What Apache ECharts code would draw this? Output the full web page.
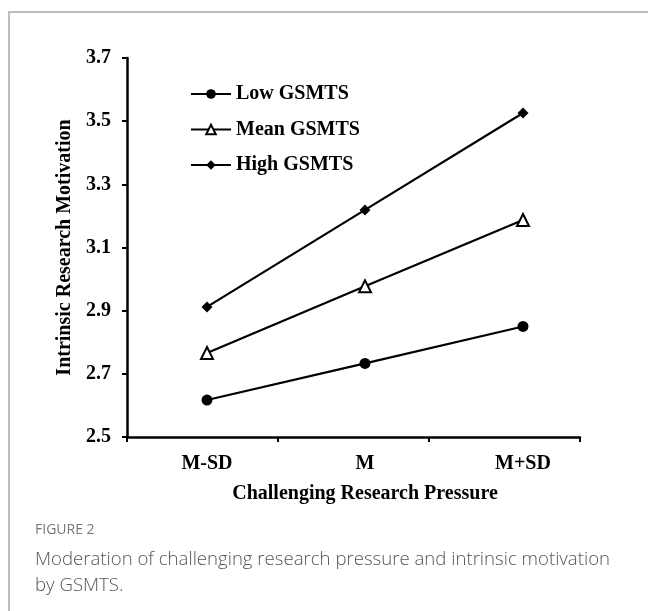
<!DOCTYPE html>
<html><head><meta charset="utf-8">
<script src="https://cdn.jsdelivr.net/npm/echarts@6/dist/echarts.min.js"></script>
<style>html,body{margin:0;padding:0;background:#fff;}#c{width:648px;height:611px;}</style>
</head><body><div id="c"></div>
<script>
const categories = ['M-SD', 'M', 'M+SD'];
const lowGSMTS = [2.617, 2.733, 2.850];
const meanGSMTS = [2.766, 2.977, 3.187];
const highGSMTS = [2.912, 3.219, 3.526];
const seriesNames = ['Low GSMTS', 'Mean GSMTS', 'High GSMTS'];
const yMin = 2.5, yMax = 3.7, yStep = 0.2;

const serif = '"Liberation Serif", "Times New Roman", serif';
const fs = 20;
const chart = echarts.init(document.getElementById('c'), null, {renderer: 'canvas'});
const lineStyle = {color: '#000', width: 2.2};
const txt = {fontFamily: serif, fontWeight: 'bold', fontSize: fs, color: '#000'};
chart.setOption({
  animation: false,
  backgroundColor: '#fff',
  grid: [
    {left: 127, right: 68, top: 58, bottom: 174},
    {left: 207, right: 125, top: 58, bottom: 174}
  ],
  legend: {
    orient: 'vertical', left: 185, top: 79, itemWidth: 40, itemHeight: 12, itemGap: 15.5,
    textStyle: txt,
    data: seriesNames
  },
  xAxis: [
    {
      gridIndex: 0, type: 'category', data: categories, boundaryGap: true,
      axisLine: {lineStyle: {color: '#000', width: 2.5}},
      axisTick: {show: true, length: 5, lineStyle: {color: '#000', width: 2}},
      axisLabel: {show: false}
    },
    {
      gridIndex: 1, type: 'category', data: categories, boundaryGap: false,
      axisLine: {show: false}, axisTick: {show: false},
      axisLabel: Object.assign({margin: 17}, txt),
      name: 'Challenging Research Pressure', nameLocation: 'middle', nameGap: 47,
      nameTextStyle: txt
    }
  ],
  yAxis: [
    {
      gridIndex: 0, type: 'value', min: yMin, max: yMax, interval: yStep,
      axisLine: {show: true, lineStyle: {color: '#000', width: 2.5}},
      axisTick: {show: true, length: 5, lineStyle: {color: '#000', width: 2}},
      splitLine: {show: false},
      axisLabel: Object.assign({margin: 16, formatter: v => v.toFixed(1)}, txt),
      name: 'Intrinsic Research Motivation', nameLocation: 'middle', nameGap: 45, nameRotate: 90,
      nameTextStyle: txt
    },
    {
      gridIndex: 1, type: 'value', min: yMin, max: yMax, interval: yStep, show: false,
      splitLine: {show: false}
    }
  ],
  series: [
    {name: seriesNames[0], type: 'line', xAxisIndex: 1, yAxisIndex: 1, data: lowGSMTS,
      symbol: 'circle', symbolSize: 11, lineStyle: lineStyle, itemStyle: {color: '#000'}},
    {name: seriesNames[1], type: 'line', xAxisIndex: 1, yAxisIndex: 1, data: meanGSMTS,
      symbol: 'triangle', symbolSize: 12, lineStyle: lineStyle,
      itemStyle: {color: '#fff', borderColor: '#000', borderWidth: 2}},
    {name: seriesNames[2], type: 'line', xAxisIndex: 1, yAxisIndex: 1, data: highGSMTS,
      symbol: 'diamond', symbolSize: 11, lineStyle: lineStyle, itemStyle: {color: '#000'}}
  ],
  graphic: [
    {type: 'rect', shape: {x: 9, y: 12, width: 700, height: 700},
      style: {fill: 'none', stroke: '#bdbdbd', lineWidth: 2}, silent: true},
    {type: 'text', left: 35, top: 523,
      style: {text: 'FIGURE 2', fill: '#777', font: '500 14px "Open Sans", sans-serif'}},
    {type: 'text', left: 35, top: 547,
      style: {text: 'Moderation of challenging research pressure and intrinsic motivation\nby GSMTS.',
        fill: '#555', font: '300 18.6px "Open Sans", sans-serif', lineHeight: 26}}
  ]
});
</script></body></html>
